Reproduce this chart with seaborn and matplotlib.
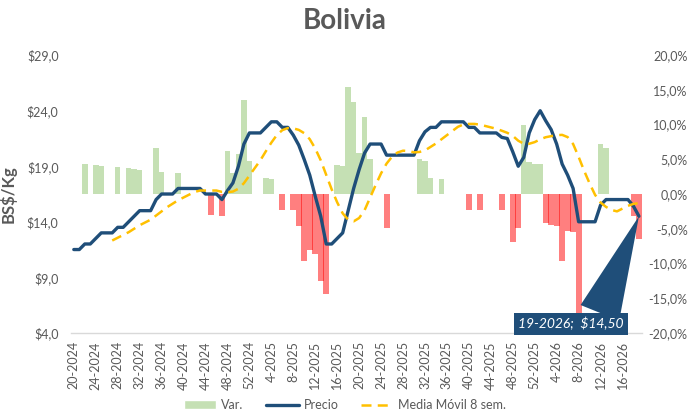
import matplotlib
matplotlib.use('Agg')
import seaborn as sns
import matplotlib.pyplot as plt
import numpy as np
import pandas as pd
from matplotlib.patches import Patch
from matplotlib.lines import Line2D
from matplotlib.ticker import FuncFormatter

sns.set_style('white')
plt.rcParams['font.family'] = ['Lato', 'DejaVu Sans']

# semanas 20-2024 .. 19-2026
semanas = ([f'{w}-2024' for w in range(20, 53)] +
           [f'{w}-2025' for w in range(1, 53)] +
           [f'{w}-2026' for w in range(1, 20)])

precio = [11.5, 11.5, 12.0, 12.0, 12.5, 13.0, 13.0, 13.0, 13.5, 13.5,
          14.0, 14.5, 15.0, 15.0, 15.0, 16.0, 16.5, 16.5, 16.5, 17.0,
          17.0, 17.0, 17.0, 17.0, 16.5, 16.5, 16.5, 16.0, 16.8, 17.5,
          19.0, 21.0, 22.0, 22.0, 22.0, 22.5, 23.0, 23.0, 22.5, 22.5,
          21.8, 20.9, 19.6, 18.2, 16.3, 14.5, 12.0, 12.0, 12.5, 13.0,
          15.0, 17.0, 18.7, 20.2, 21.0, 21.0, 21.0, 20.0, 20.0, 20.0,
          20.0, 20.0, 20.0, 21.3, 22.1, 22.5, 22.5, 23.0, 23.0, 23.0,
          23.0, 23.0, 22.5, 22.5, 22.0, 22.0, 22.0, 22.0, 21.6, 21.5,
          20.3, 19.0, 19.8, 22.0, 23.2, 24.0, 23.1, 22.3, 21.0, 19.2,
          18.2, 17.0, 14.0, 14.0, 14.0, 14.0, 15.5, 16.0, 16.0, 16.0,
          16.0, 16.0, 15.4, 14.5]

var = [0, 0, 4.3, 0, 4.17, 4.0, 0, 0, 3.9, 0,
       3.7, 3.55, 3.45, 0, 0, 6.65, 3.15, 0, 0, 3.0,
       0, 0, 0, 0, 0, -3.0, 0, -3.15, 6.2, 3.0,
       5.75, 13.5, 4.75, 0, 0, 2.3, 2.2, 0, -2.3, 0,
       -2.3, -4.55, -9.6, -8.05, -8.6, -12.6, -14.4, 0, 4.17, 4.0,
       15.4, 13.3, 5.85, 11.1, 5.0, 0, 0, -4.85, 0, 0,
       0, 0, 0, 5.0, 4.75, 2.25, 0, 2.15, 0, 0,
       0, 0, -2.25, 0, -2.25, 0, 0, 0, -2.25, 0,
       -6.95, -4.95, 10.0, 4.55, 4.3, 4.3, -4.2, -4.45, -4.55, -9.6,
       -5.3, -5.5, -17.5, 0, 0, 0, 7.15, 6.65, 0, 0,
       0, 0, -3.1, -6.5]

df = pd.DataFrame({'semana': semanas, 'precio': precio, 'var': var})
df['x'] = np.arange(len(df))
df['media'] = df['precio'].rolling(8).mean()

gris = '#595959'
azul = '#1F4E79'
verde = '#C5E0B4'
amarillo = '#FFC000'

fig, ax = plt.subplots(figsize=(6.9, 4.15), dpi=100)
fig.subplots_adjust(left=0.103, right=0.930, top=0.867, bottom=0.198)
ax2 = ax.twinx()

# barras de variacion (eje derecho)
sns.barplot(data=df[df['var'] > 0], x='semana', y='var', order=semanas,
            color=verde, saturation=1, width=1.0, linewidth=0,
            errorbar=None, ax=ax2)
sns.barplot(data=df[df['var'] < 0], x='semana', y='var', order=semanas,
            color='#FF0000', alpha=0.5, saturation=1, width=1.08, linewidth=0,
            errorbar=None, ax=ax2)

# precio y media movil (eje izquierdo)
sns.lineplot(x=df['x'], y=df['precio'], ax=ax, color=azul, lw=2.4)
sns.lineplot(x=df['x'], y=df['media'], ax=ax, color=amarillo, lw=1.8)
ax.lines[-1].set_dashes([4, 2.5])

ax.set_zorder(ax2.get_zorder() + 1)
ax.patch.set_visible(False)

ax.set_xlim(-0.5, len(df) - 0.5)
ax.set_ylim(4, 29)
ax.set_yticks(range(4, 30, 5))
ax.yaxis.set_major_formatter(FuncFormatter(lambda v, p: f'${v:.1f}'.replace('.', ',')))
ax.set_xticks(df['x'][::4])
ax.set_xticklabels(semanas[::4], rotation=90)
ax.set_xlabel('')
ax.set_ylabel('BS$/Kg', fontsize=12, fontweight='bold', color=gris)
ax.yaxis.set_label_coords(-0.0955, 0.5)

ax2.set_ylim(-20, 20)
ax2.set_yticks(range(-20, 21, 5))
ax2.yaxis.set_major_formatter(FuncFormatter(lambda v, p: f'{v:.1f}%'.replace('.', ',')))
ax2.set_ylabel('')
ax2.set_xlabel('')

ax.tick_params(axis='x', length=0, labelsize=9, labelcolor=gris, pad=6)
ax.tick_params(axis='y', length=0, labelsize=9, labelcolor=gris, pad=9)
ax2.tick_params(axis='y', length=0, labelsize=9, labelcolor=gris, pad=33)
plt.setp(ax2.get_yticklabels(), ha='right')

for s in ax.spines.values():
    s.set_visible(False)
for s in ax2.spines.values():
    s.set_visible(False)
ax.spines['bottom'].set_visible(True)
ax.spines['bottom'].set_color('#D9D9D9')
ax.spines['bottom'].set_linewidth(1)

# etiqueta del ultimo dato
ult = df.iloc[-1]
ax.annotate(f"{ult['semana']};  ${ult['precio']:.2f}".replace('.', ','),
            xy=(ult['x'], ult['precio']), xytext=(0.8757, 0.033),
            textcoords='axes fraction', ha='center', va='center',
            color='white', fontsize=10, style='italic',
            bbox=dict(boxstyle='square,pad=0.3', fc=azul, ec='none'),
            arrowprops=dict(arrowstyle='wedge,tail_width=3.0,shrink_factor=0.5',
                            fc=azul, ec='none', relpos=(0.76, 1.0),
                            shrinkA=0, shrinkB=0),
            zorder=5)

fig.text(0.5, 1 - 21 / 415, 'Bolivia', ha='center', va='center',
         fontsize=20, fontweight='bold', color=gris)

handles = [Patch(facecolor=verde, label='Var.'),
           Line2D([], [], color=azul, lw=2.4, label='Precio'),
           Line2D([], [], color=amarillo, lw=1.8, ls=(0, (4, 2.5)), label='Media Móvil 8 sem.')]
fig.legend(handles=handles, loc='center', bbox_to_anchor=(0.5, 10 / 415), ncol=3,
           frameon=False, fontsize=9, labelcolor=gris, handlelength=2.6,
           columnspacing=1.8, handletextpad=0.4)

fig.savefig('out.png', dpi=100)
